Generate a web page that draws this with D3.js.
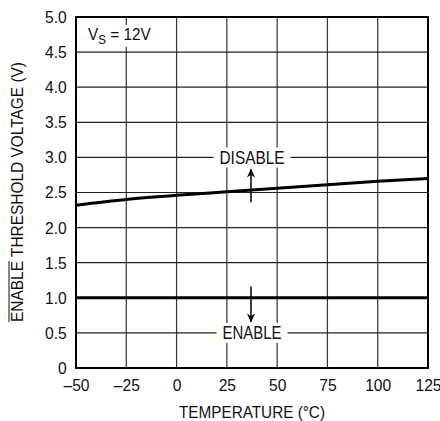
<!DOCTYPE html>
<html>
<head>
<meta charset="utf-8">
<script src="https://cdn.jsdelivr.net/npm/d3@7"></script>
<style>
  body { margin: 0; background: #fff; }
  text { font-family: "Liberation Sans", Arial, sans-serif; fill: #111; }
</style>
</head>
<body>
<div id="chart"></div>
<script>
// values
const tempC = [-50, -25, 0, 25, 50, 75, 100, 125];
const disableV = [2.32, 2.40, 2.46, 2.51, 2.56, 2.61, 2.66, 2.70];
const enableV = [1.0, 1.0, 1.0, 1.0, 1.0, 1.0, 1.0, 1.0];
const xTicks = [-50, -25, 0, 25, 50, 75, 100, 125];
const yTicks = [0, 0.5, 1.0, 1.5, 2.0, 2.5, 3.0, 3.5, 4.0, 4.5, 5.0];

const W = 440, H = 421;
const margin = {top: 17, right: 12, bottom: 53, left: 76};
const width = W - margin.left - margin.right;
const height = H - margin.top - margin.bottom;

const x = d3.scaleLinear().domain([-50, 125]).range([0, width]);
const y = d3.scaleLinear().domain([0, 5]).range([height, 0]);

const svg = d3.select("#chart").append("svg")
    .attr("width", W)
    .attr("height", H);

const g = svg.append("g")
    .attr("transform", `translate(${margin.left}, ${margin.top})`);

// grid
g.append("g").selectAll("line")
    .data(xTicks)
  .enter().append("line")
    .attr("x1", d => x(d)).attr("x2", d => x(d))
    .attr("y1", 0).attr("y2", height)
    .attr("stroke", "#333").attr("stroke-width", 1.2);

g.append("g").selectAll("line")
    .data(yTicks)
  .enter().append("line")
    .attr("x1", 0).attr("x2", width)
    .attr("y1", d => y(d)).attr("y2", d => y(d))
    .attr("stroke", "#222").attr("stroke-width", 1.2);

// axes (labels only), narrowed to look like a condensed face
const xAxis = d3.axisBottom(x).tickValues(xTicks).tickSize(0).tickPadding(11)
    .tickFormat(d => d < 0 ? "\u2013" + Math.abs(d) : d);
const yAxis = d3.axisLeft(y).tickValues(yTicks).tickSize(0).tickPadding(10)
    .tickFormat(d => d === 0 ? "0" : d3.format(".1f")(d));

g.append("g")
    .attr("transform", `translate(0, ${height})`)
    .call(xAxis)
    .call(s => s.select(".domain").remove())
    .selectAll("text")
    .style("font-size", "17px").attr("fill", "#111")
    .attr("transform", "scale(0.92,1)");

g.append("g")
    .call(yAxis)
    .call(s => s.select(".domain").remove())
    .selectAll("text")
    .style("font-size", "17px").attr("fill", "#111")
    .attr("transform", "scale(0.92,1)");

// frame
g.append("rect")
    .attr("width", width).attr("height", height)
    .attr("fill", "none").attr("stroke", "#000").attr("stroke-width", 2);

// label boxes sitting on gridlines
function boxedLabel(txt, tx, ty, len) {
  g.append("rect")
      .attr("x", x(tx) - len / 2 - 6).attr("y", y(ty) - 10)
      .attr("width", len + 12).attr("height", 20)
      .attr("fill", "#fff");
  g.append("text")
      .attr("x", x(tx)).attr("y", y(ty))
      .attr("dy", "0.35em")
      .attr("text-anchor", "middle")
      .attr("textLength", len)
      .attr("lengthAdjust", "spacingAndGlyphs")
      .style("font-size", "18.5px")
      .text(txt);
}
boxedLabel("DISABLE", 37.5, 3.0, 65);
boxedLabel("ENABLE", 37.5, 0.5, 59);

// curves
const line = d3.line()
    .x((d, i) => x(tempC[i]))
    .y(d => y(d))
    .curve(d3.curveMonotoneX);

g.append("path").datum(disableV)
    .attr("d", line)
    .attr("fill", "none").attr("stroke", "#000").attr("stroke-width", 3);
g.append("path").datum(enableV)
    .attr("d", line)
    .attr("fill", "none").attr("stroke", "#000").attr("stroke-width", 3);

// arrows
const defs = svg.append("defs");
defs.append("marker")
    .attr("id", "arr")
    .attr("viewBox", "0 0 10 10")
    .attr("refX", 9).attr("refY", 5)
    .attr("markerUnits", "userSpaceOnUse")
    .attr("markerWidth", 13).attr("markerHeight", 9)
    .attr("orient", "auto")
  .append("path")
    .attr("d", "M0,0.5 L10,5 L0,9.5 L3,5 Z")
    .attr("fill", "#000");

g.append("line")
    .attr("x1", x(37)).attr("x2", x(37))
    .attr("y1", y(2.36)).attr("y2", y(2.83))
    .attr("stroke", "#000").attr("stroke-width", 1.5)
    .attr("marker-end", "url(#arr)");
g.append("line")
    .attr("x1", x(37)).attr("x2", x(37))
    .attr("y1", y(1.16)).attr("y2", y(0.66))
    .attr("stroke", "#000").attr("stroke-width", 1.5)
    .attr("marker-end", "url(#arr)");

// Vs annotation
g.append("rect")
    .attr("x", 9).attr("y", 8)
    .attr("width", 72).attr("height", 22)
    .attr("fill", "#fff");
const vs = g.append("text")
    .attr("transform", "translate(12, 23) scale(0.9,1)")
    .style("font-size", "17px");
vs.append("tspan").text("V");
vs.append("tspan").attr("dy", 4).style("font-size", "13px").text("S");
vs.append("tspan").attr("dy", -4).text(" = 12V");

// axis titles
svg.append("text")
    .attr("x", margin.left + width / 2).attr("y", 418)
    .attr("text-anchor", "middle")
    .attr("textLength", 146)
    .attr("lengthAdjust", "spacingAndGlyphs")
    .style("font-size", "16.5px")
    .text("TEMPERATURE (\u00B0C)");

const ytX = 23, ytY = 192, ytLen = 260;
const yt = svg.append("text")
    .attr("transform", `translate(${ytX}, ${ytY}) rotate(-90)`)
    .attr("text-anchor", "middle")
    .attr("textLength", ytLen)
    .attr("lengthAdjust", "spacingAndGlyphs")
    .style("font-size", "17px")
    .text("ENABLE THRESHOLD VOLTAGE (V)");
// overline on ENABLE
const enLen = yt.node().getSubStringLength(0, 6);
svg.append("line")
    .attr("transform", `translate(${ytX}, ${ytY}) rotate(-90)`)
    .attr("x1", -ytLen / 2).attr("x2", -ytLen / 2 + enLen)
    .attr("y1", -14).attr("y2", -14)
    .attr("stroke", "#111").attr("stroke-width", 1);
</script>
</body>
</html>
